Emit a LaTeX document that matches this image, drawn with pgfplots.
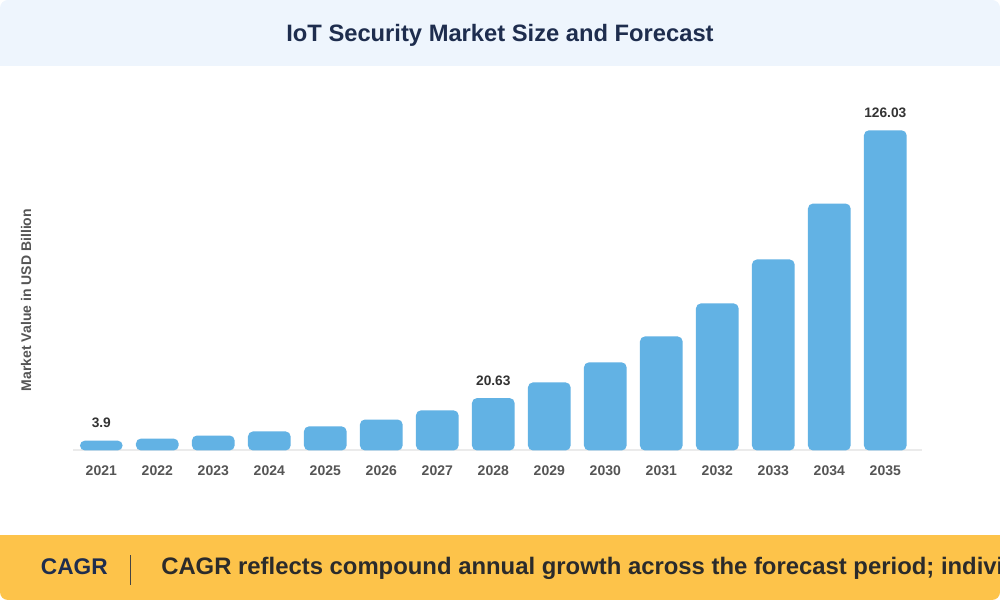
\documentclass[border=0pt]{standalone}
\usepackage{pgfplots}
\pgfplotsset{compat=1.18}
\usepackage{fontspec}
\setmainfont{Liberation Sans}
\definecolor{barblue}{HTML}{62B2E4}
\definecolor{titlebg}{HTML}{EEF5FD}
\definecolor{titlecol}{HTML}{1E2D4E}
\definecolor{banner}{HTML}{FDC34A}
\definecolor{bannertext}{HTML}{2B2B2B}
\definecolor{sepcol}{HTML}{444444}
\definecolor{tickgray}{HTML}{555555}
\definecolor{valcol}{HTML}{333333}
\definecolor{linegray}{HTML}{EBEBEB}
\begin{document}
\begin{tikzpicture}[x=0.75pt,y=0.75pt]
\useasboundingbox (0,0) rectangle (1000,600);
\begin{scope}
\clip[rounded corners=6pt] (0,0) rectangle (1000,600);
\fill[white] (0,0) rectangle (1000,600);
\fill[titlebg] (0,534) rectangle (1000,600);
\fill[banner] (0,0) rectangle (1000,65);
\node[anchor=base, inner sep=0pt, font=\bfseries\fontsize{17.8}{20}\selectfont, text=titlecol] at (500,558.3) {IoT Security Market Size and Forecast};
\draw[sepcol, line width=1.1pt] (130.7,15) -- (130.7,45);
\node[anchor=base west, inner sep=0pt, font=\bfseries\fontsize{17}{20}\selectfont, text=titlecol] at (40.7,25) {CAGR};
\node[anchor=base west, inner sep=0pt, font=\bfseries\fontsize{17.9}{20}\selectfont, text=bannertext] at (161,25) {CAGR reflects compound annual growth across the forecast period; individual year values may vary.};
\end{scope}
\node[rotate=90, font=\bfseries\fontsize{10.5}{12}\selectfont, text=tickgray] at (26,300) {Market Value in USD Billion};
\begin{axis}[
  at={(54.975pt,112.125pt)}, anchor=south west,
  scale only axis, width=636.3pt, height=240.15pt,
  xmin=-0.5, xmax=14.65, ymin=0, ymax=126.03,
  axis y line=none, axis x line*=bottom,
  x axis line style={draw=linegray, line width=1.5pt, -},
  xtick={0,...,14},
  xticklabels={2021,2022,2023,2024,2025,2026,2027,2028,2029,2030,2031,2032,2033,2034,2035},
  major tick length=0pt,
  xticklabel style={anchor=base, yshift=-19.1pt, font=\bfseries\fontsize{10.5}{12}\selectfont, text=tickgray},
  clip=false,
]
\addplot[ybar, bar width=32pt, bar shift=0pt, fill=barblue, draw=none, rounded corners=3.75pt] coordinates {
(0,3.9) (1,4.7) (2,5.9) (3,7.5) (4,9.5) (5,12.2) (6,15.8) (7,20.63)
(8,26.8) (9,34.7) (10,44.9) (11,57.9) (12,75.2) (13,97.2) (14,126.03)};
\addplot[draw=none, mark=none, nodes near coords, point meta=explicit symbolic,
  nodes near coords style={anchor=base, yshift=9.75pt, font=\bfseries\fontsize{10.3}{12}\selectfont, text=valcol}]
  coordinates {(0,3.9) [3.9] (7,20.63) [20.63] (14,126.03) [126.03]};
\end{axis}
\end{tikzpicture}
\end{document}
